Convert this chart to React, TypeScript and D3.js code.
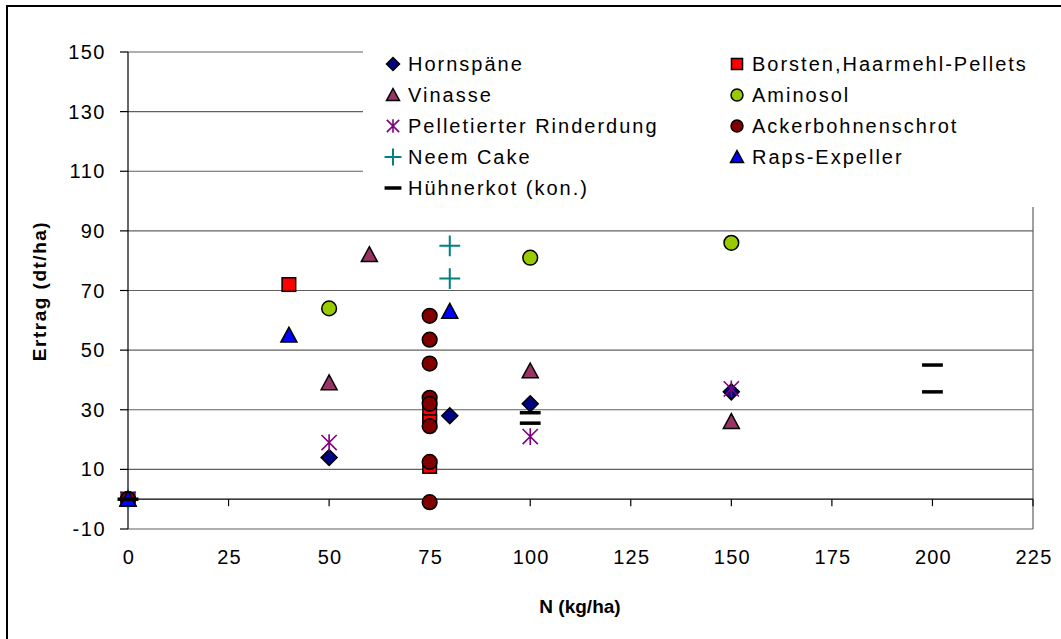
import React from "react";
import * as d3 from "d3";

const xTicks = [0, 25, 50, 75, 100, 125, 150, 175, 200, 225];
const yTicks = [-10, 10, 30, 50, 70, 90, 110, 130, 150];

const hornspaeneX = [0, 50, 80, 100, 150];
const hornspaeneY = [0, 14, 28, 32, 36];
const borstenX = [0, 40, 75, 75, 75];
const borstenY = [0, 72, 29, 26, 11];
const vinasseX = [0, 50, 60, 100, 150];
const vinasseY = [0, 39, 82, 43, 26];
const aminosolX = [0, 50, 100, 150];
const aminosolY = [0, 64, 81, 86];
const pelletX = [0, 50, 100, 150];
const pelletY = [0, 19, 21, 37];
const ackerX = [0, 75, 75, 75, 75, 75, 75, 75, 75];
const ackerY = [0, 61.5, 53.5, 45.5, 34, 32, 24.5, 12.5, -1];
const neemX = [0, 80, 80];
const neemY = [0, 85, 74];
const rapsX = [0, 40, 80];
const rapsY = [0, 55, 63];
const huehnerX = [0, 100, 100, 200, 200];
const huehnerY = [0, 29, 25.5, 45, 36];

type Shape = "diamond" | "square" | "triangle" | "circle" | "asterisk" | "plus" | "dash";

const series: { name: string; xs: number[]; ys: number[]; shape: Shape; color: string }[] = [
  { name: "Hornspäne", xs: hornspaeneX, ys: hornspaeneY, shape: "diamond", color: "#000080" },
  { name: "Borsten,Haarmehl-Pellets", xs: borstenX, ys: borstenY, shape: "square", color: "#FF0000" },
  { name: "Vinasse", xs: vinasseX, ys: vinasseY, shape: "triangle", color: "#993366" },
  { name: "Aminosol", xs: aminosolX, ys: aminosolY, shape: "circle", color: "#99CC00" },
  { name: "Pelletierter Rinderdung", xs: pelletX, ys: pelletY, shape: "asterisk", color: "#800080" },
  { name: "Ackerbohnenschrot", xs: ackerX, ys: ackerY, shape: "circle", color: "#800000" },
  { name: "Neem Cake", xs: neemX, ys: neemY, shape: "plus", color: "#008080" },
  { name: "Raps-Expeller", xs: rapsX, ys: rapsY, shape: "triangle", color: "#0000FF" },
  { name: "Hühnerkot (kon.)", xs: huehnerX, ys: huehnerY, shape: "dash", color: "#000000" },
];

const legendOrder = [0, 2, 4, 6, 8, 1, 3, 5, 7];

function Marker({ shape, color, cx, cy, s }: { shape: Shape; color: string; cx: number; cy: number; s: number }) {
  const t = `translate(${cx},${cy})`;
  switch (shape) {
    case "diamond":
      return <path transform={t} d={`M0,${-s} L${s},0 L0,${s} L${-s},0Z`} fill={color} stroke="#000" strokeWidth={1.5} />;
    case "square":
      return <rect x={cx - s * 0.85} y={cy - s * 0.85} width={s * 1.7} height={s * 1.7} fill={color} stroke="#000" strokeWidth={1.5} />;
    case "triangle":
      return <path transform={t} d={`M0,${-s} L${s},${s * 0.85} L${-s},${s * 0.85}Z`} fill={color} stroke="#000" strokeWidth={1.5} />;
    case "circle":
      return <circle cx={cx} cy={cy} r={s * 0.92} fill={color} stroke="#000" strokeWidth={1.5} />;
    case "asterisk": {
      const a = s * 0.95;
      return (
        <path transform={t} d={`M${-a},${-a} L${a},${a} M${-a},${a} L${a},${-a} M0,${-a * 1.1} L0,${a * 1.1}`} stroke={color} strokeWidth={1.6} fill="none" />
      );
    }
    case "plus": {
      const a = s * 1.3;
      return <path transform={t} d={`M${-a},0 L${a},0 M0,${-a} L0,${a}`} stroke={color} strokeWidth={2} fill="none" />;
    }
    case "dash": {
      const a = s * 1.3;
      return <path transform={t} d={`M${-a},0 L${a},0`} stroke={color} strokeWidth={3.5} fill="none" />;
    }
  }
  return null;
}

export default function App() {
  const W = 1061;
  const H = 639;
  const x = d3.scaleLinear().domain([0, 225]).range([128, 1033]);
  const y = d3.scaleLinear().domain([-10, 150]).range([529, 52]);
  const font = "'Liberation Sans', Arial, sans-serif";
  const gridColor = "#606060";

  const legendRows = [64, 95, 126, 157, 188];

  return (
    <svg width={W} height={H} style={{ position: "absolute", left: 0, top: 0, background: "#fff" }} fontFamily={font}>
      <rect x={0} y={0} width={W} height={H} fill="#fff" />
      {/* outer frame */}
      <rect x={7} y={6} width={W + 20} height={H + 20} fill="none" stroke="#000" strokeWidth={2} />

      {/* gridlines */}
      {yTicks.map((v) => (
        <line key={v} x1={x(0)} x2={x(225)} y1={y(v)} y2={y(v)} stroke={gridColor} strokeWidth={1.2} />
      ))}
      {/* plot right border */}
      <line x1={x(225)} x2={x(225)} y1={y(150)} y2={y(-10)} stroke={gridColor} strokeWidth={1.2} />

      {/* y axis */}
      <line x1={x(0)} x2={x(0)} y1={y(150)} y2={y(-10)} stroke="#000" strokeWidth={1.2} />
      {yTicks.map((v) => (
        <g key={"yt" + v}>
          <line x1={x(0) - 8} x2={x(0)} y1={y(v)} y2={y(v)} stroke="#000" strokeWidth={1.2} />
          <text x={106} y={y(v) + 7} textAnchor="end" fontSize={20} letterSpacing={1.5} fill="#000">
            {v}
          </text>
        </g>
      ))}

      {/* x axis at 0 */}
      <line x1={x(0)} x2={x(225)} y1={y(0)} y2={y(0)} stroke="#000" strokeWidth={1.2} />
      {xTicks.map((v) => (
        <g key={"xt" + v}>
          <line x1={x(v)} x2={x(v)} y1={y(0)} y2={y(0) + 7} stroke="#000" strokeWidth={1.2} />
          <text x={x(v) + 1} y={564} textAnchor="middle" fontSize={20} letterSpacing={1.2} fill="#000">
            {v}
          </text>
        </g>
      ))}

      {/* legend background */}
      <rect x={363} y={36} width={675} height={171} fill="#fff" />

      {/* points */}
      {series.map((s) => (
        <g key={s.name}>
          {s.xs.map((xv, i) => (
            <Marker key={i} shape={s.shape} color={s.color} cx={x(xv)} cy={y(s.ys[i])} s={8} />
          ))}
        </g>
      ))}

      {/* legend */}
      {legendOrder.map((idx, k) => {
        const s = series[idx];
        const col = k < 5 ? 0 : 1;
        const row = col === 0 ? k : k - 5;
        const mx = col === 0 ? 393 : 737;
        const ty = legendRows[row];
        return (
          <g key={"lg" + idx}>
            <Marker shape={s.shape} color={s.color} cx={mx} cy={ty} s={6.5} />
            <text x={mx + 15} y={ty + 7} fontSize={20} letterSpacing={2} fill="#000">
              {s.name}
            </text>
          </g>
        );
      })}

      {/* axis titles */}
      <text
        transform={`translate(46,291) rotate(-90)`}
        textAnchor="middle"
        fontSize={19}
        fontWeight="bold"
        letterSpacing={1.5}
        fill="#000"
      >
        Ertrag (dt/ha)
      </text>
      <text x={580} y={613} textAnchor="middle" fontSize={19} fontWeight="bold" fill="#000">
        N (kg/ha)
      </text>
    </svg>
  );
}
